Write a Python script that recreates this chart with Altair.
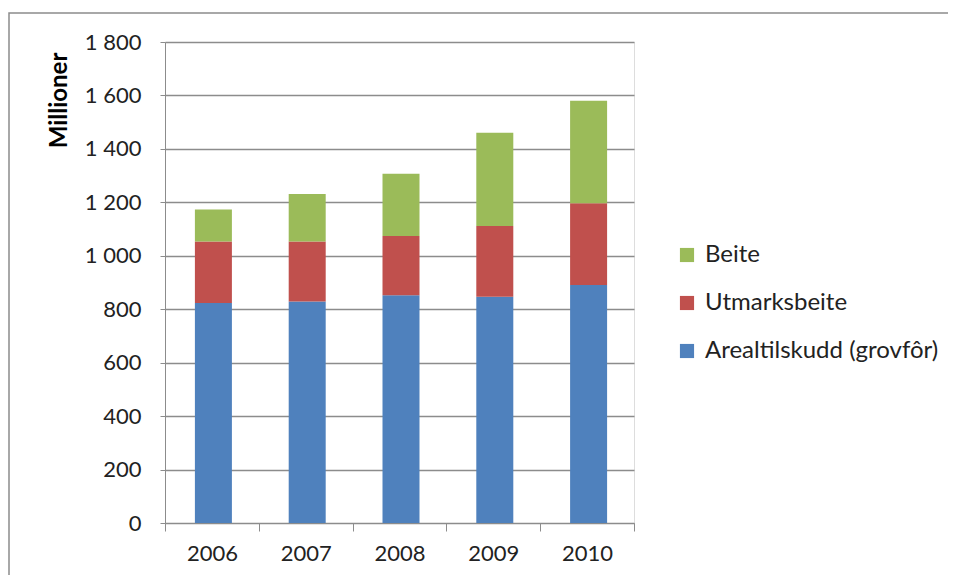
import altair as alt
import pandas as pd

years = ["2006", "2007", "2008", "2009", "2010"]
areal = [823, 829, 852, 847, 891]
utmark = [230, 224, 222, 264, 306]
beite = [120, 178, 233, 349, 383]

series = ["Beite", "Utmarksbeite", "Arealtilskudd (grovfôr)"]
colors = ["#9BBB59", "#C0504D", "#4F81BD"]
stack_order = {"Arealtilskudd (grovfôr)": 0, "Utmarksbeite": 1, "Beite": 2}

rows = []
for i, y in enumerate(years):
    for name, vals in [("Arealtilskudd (grovfôr)", areal), ("Utmarksbeite", utmark), ("Beite", beite)]:
        rows.append({"year": y, "serie": name, "value": vals[i], "ord": stack_order[name]})
df = pd.DataFrame(rows)

FONT = "Lato"

bars = alt.Chart(df).mark_bar(size=37, xOffset=1.5).encode(
    x=alt.X("year:N", title=None,
            scale=alt.Scale(paddingInner=0, paddingOuter=0),
            axis=alt.Axis(labelAngle=0, tickBand="extent", tickSize=8,
                          labelPadding=12, labelFontSize=22, labelFont=FONT,
                          labelColor="#222222", domainColor="#8c8c8c",
                          tickColor="#8c8c8c", grid=False)),
    y=alt.Y("value:Q", stack="zero",
            scale=alt.Scale(domain=[0, 1800], nice=False),
            axis=alt.Axis(values=list(range(0, 1801, 200)),
                          labelExpr="replace(format(datum.value, ','), ',', ' ')",
                          title="Millioner", titleFont=FONT, titleFontSize=24,
                          titleFontWeight="bold", titleColor="#000000",
                          titleAngle=-90, titleAlign="center", titleBaseline="middle",
                          titleX=-106, titleY=58,
                          tickSize=5, labelPadding=19, labelFontSize=22,
                          labelFont=FONT, labelColor="#222222",
                          domainColor="#8c8c8c", tickColor="#8c8c8c",
                          gridColor="#8c8c8c", gridWidth=1.3)),
    color=alt.Color("serie:N",
                    scale=alt.Scale(domain=series, range=colors),
                    legend=alt.Legend(title=None, orient="none", legendX=510,
                                      legendY=201, symbolType="square",
                                      symbolSize=200, symbolStrokeWidth=0,
                                      labelFont=FONT, labelFontSize=24,
                                      labelLimit=400,
                                      labelColor="#222222", rowPadding=24,
                                      labelOffset=6)),
    order=alt.Order("ord:Q", sort="ascending"),
)

border = alt.Chart(pd.DataFrame({"a": [0]})).mark_rect(
    fill=None, stroke="#8c8c8c", strokeWidth=1.5
).encode(
    x=alt.value(-156), x2=alt.value(785), y=alt.value(-29), y2=alt.value(620)
)

chart = alt.layer(border, bars).properties(
    width=469, height=481,
    autosize=alt.AutoSizeParams(type="none"),
    padding={"left": 157, "top": 34, "right": 314, "bottom": 52},
).configure_view(stroke=None).configure(background="white")

chart.save("out.html", embed_options={"renderer": "svg", "actions": False})
